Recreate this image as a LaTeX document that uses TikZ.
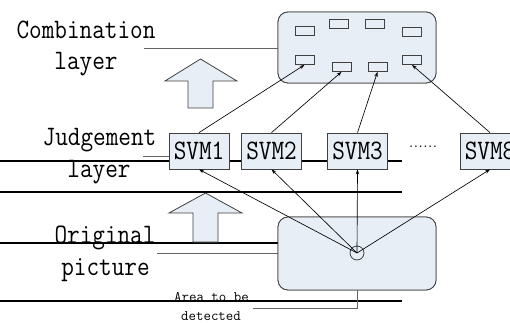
\documentclass[tikz,border=0pt]{standalone}
\usepackage{fontspec}
\usetikzlibrary{arrows.meta}
\definecolor{boxfill}{RGB}{231,238,246}
\definecolor{edgegray}{RGB}{64,64,64}
\definecolor{linkgray}{RGB}{100,100,100}
\newcommand{\bigtt}[1]{\scalebox{1}[1.15]{\fontsize{24.5}{28}\selectfont\ttfamily\addfontfeatures{FakeBold=0.5}#1}}
\newcommand{\smalltt}[1]{{\fontsize{14.5}{16}\selectfont\ttfamily\addfontfeatures{FakeBold=0.4}#1}}
\begin{document}
\begin{tikzpicture}[x=1pt,y=-1pt,
  panel/.style={draw=edgegray, fill=boxfill, rounded corners=10pt, line width=0.8pt, inner sep=0pt},
  cell/.style={draw=edgegray, fill=boxfill, line width=0.8pt, minimum width=19pt, minimum height=9pt, inner sep=0pt},
  svmbox/.style={draw=edgegray, fill=boxfill, line width=0.8pt, minimum width=60pt, minimum height=36pt, inner sep=0pt},
  rule/.style={line width=1.6pt, black},
  link/.style={draw=black, line width=0.65pt, -{Stealth[length=5pt,width=3.5pt]}},
  gline/.style={draw=linkgray, line width=0.9pt},
  blockarrow/.style={draw=edgegray, fill=boxfill, line width=0.8pt, line join=miter},
  label/.style={anchor=base, inner sep=0pt}
]
\useasboundingbox (0,0) rectangle (510,323);
\clip (0,0) rectangle (510,323);

% coordinates for free ends
\coordinate (ra1) at (0,161);   \coordinate (rb1) at (402,161);
\coordinate (ra2) at (0,192);   \coordinate (rb2) at (402,192);
\coordinate (ra3) at (0,243);
\coordinate (ra4) at (0,301);   \coordinate (rb4) at (402,301);
\coordinate (gc) at (144,48);
\coordinate (gj) at (143,156);
\coordinate (go) at (157,253);
\coordinate (ga) at (253,308);

% panels
\node[panel, minimum width=158pt, minimum height=71pt] (comb) at (357,47.5) {};
\node[panel, minimum width=158pt, minimum height=73pt] (orig) at (357,253.5) {};

% thick rules (behind boxes)
\draw[rule] (ra1) -- (rb1);
\draw[rule] (ra2) -- (rb2);
\draw[rule] (ra3) -- (ra3 -| orig.west);
\draw[rule] (ra4) -- (rb4);

% grey leader lines
\draw[gline] (gc) -- (gc -| comb.west);
\draw[gline] (go) -- (go -| orig.west);
\draw[gline] (orig.south) |- (ga);

% redraw panels on top of leaders
\node[panel, minimum width=158pt, minimum height=71pt] at (comb.center) {};
\node[panel, minimum width=158pt, minimum height=73pt] at (orig.center) {};

% cells in combination layer
\node[cell] (r1) at (304.5,30.5) {};
\node[cell] (r2) at (339,23.5) {};
\node[cell] (r3) at (375,23.5) {};
\node[cell] (r4) at (412,31.5) {};
\node[cell] (r5) at (304.5,60) {};
\node[cell] (r6) at (341.5,67) {};
\node[cell] (r7) at (377.5,67) {};
\node[cell] (r8) at (412,60) {};

% SVM boxes
\node[svmbox] (svm1) at (199,151) {\bigtt{SVM1}};
\node[svmbox] (svm2) at (271.5,151) {\bigtt{SVM2}};
\node[svmbox] (svm3) at (357.5,151) {\bigtt{SVM3}};
\node[svmbox] (svm8) at (490,151) {\bigtt{SVM8}};
\node[inner sep=0pt] (dots) at (423,147) {\fontsize{19}{20}\selectfont\addfontfeatures{FakeBold=0.5}......};

\draw[gline] (gj) -- (gj -| svm1.west);

% block arrows
\draw[blockarrow] (200.5,59) -- (237,81) -- (213,81) -- (213,108) -- (188,108) -- (188,81) -- (165,81) -- cycle;
\draw[blockarrow] (205.5,193) -- (242,213) -- (218,213) -- (218,242) -- (193,242) -- (193,213) -- (169,213) -- cycle;

% detection circle
\node[draw=edgegray, line width=0.8pt, circle, minimum size=14pt, inner sep=0pt] (circ) at (357,253) {};

% links
\draw[link] (circ.center) -- (svm1.south);
\draw[link] (circ.center) -- (svm2.south);
\draw[link] (circ.center) -- (svm3.south);
\draw[link] (circ.center) -- (svm8.south);
\draw[link] (svm1.north) -- (r5.south);
\draw[link] (svm2.north) -- (r6.south);
\draw[link] (svm3.north) -- (r7.south);
\draw[link] (svm8.north) -- (r8.south);

% labels
\node[label] (lc1) at (86,39) {\bigtt{Combination}};
\node[label] (lc2) at (86,70) {\bigtt{layer}};
\node[label] (lj1) at (99.5,145) {\bigtt{Judgement}};
\node[label] (lj2) at (99,177) {\bigtt{layer}};
\node[label] (lo1) at (105,243) {\bigtt{Original}};
\node[label] (lo2) at (105.5,275) {\bigtt{picture}};
\node[label] (la1) at (211.5,301) {\smalltt{Area to be}};
\node[label] (la2) at (211,320) {\smalltt{detected}};
\end{tikzpicture}
\end{document}
